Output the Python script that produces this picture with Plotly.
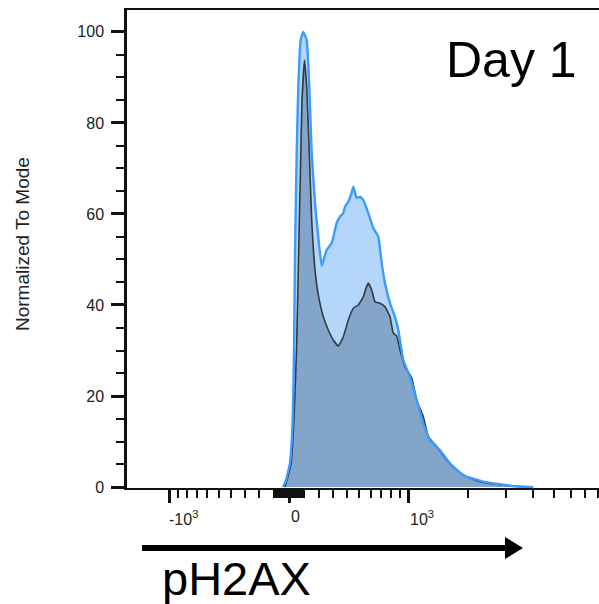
import numpy as np
import plotly.graph_objects as go

# ---------------- data (display channels of a biexponential axis) ----------------
# channel = K * asinh(intensity / C)
K = 95.0
C = 620.0


def to_channel(v):
    return K * np.arcsinh(np.asarray(v, dtype=float) / C)


# light-blue sample
blue_channel = [-6, -3, 1, 3.7, 5, 6, 7.7, 9.3, 11.7, 14.3, 17.7, 20.3, 22.7, 26, 29.3,
                32.7, 37.7, 42.7, 47.7, 51, 54.3, 56, 59.3, 62, 64.3, 67.7, 71, 74.3,
                79.3, 84.3, 89.3, 92.7, 96, 101, 106, 109.3, 114.3, 121, 127.7, 134.3,
                141, 151, 161, 174.3, 194.3, 221, 244.3]
blue_mode = [0, 1.5, 5.3, 14.7, 29.5, 51.4, 73.4, 87.9, 98.2, 100, 98.2, 87.9, 73.4, 62.4,
             54.9, 48.6, 52.1, 53.6, 58.0, 59.4, 60.2, 61.6, 62.7, 64.2, 66.0, 63.5, 63.8,
             63.1, 60.2, 56.9, 55.0, 49.2, 44.8, 40.4, 37.4, 34.5, 27.9, 24.2, 19.1, 14.0,
             10.3, 8.1, 5.2, 2.6, 1.2, 0.3, 0]

# dark (grey-blue) sample
dark_channel = [-4, 2, 5, 7.5, 9.5, 11.5, 13, 15.5, 17.7, 20.3, 22.7, 26, 29.3, 34.3, 39.3,
                44.3, 49.3, 54.3, 59.3, 64.3, 69.3, 74.3, 77, 79.3, 82.7, 86, 91, 96, 101,
                104.3, 107.7, 111, 116, 122.7, 127.7, 134.3, 139.3, 147.7, 157.7, 167.7,
                177.7, 191, 207.7, 231, 241]
dark_mode = [0, 5.0, 15, 30, 50, 70, 85, 93.8, 87.9, 73.4, 58.7, 47.7, 42.2, 37.4, 34.5,
             32.3, 31.0, 33.0, 36.7, 39.3, 40.0, 41.8, 43.7, 44.8, 43.3, 40.7, 40.4, 39.6,
             37.4, 33.8, 33.2, 30.1, 26.4, 24.0, 19.1, 15.5, 11.1, 8.9, 5.9, 3.7, 2.3, 1.2,
             0.6, 0.1, 0]

# axis ticks (intensity values)
x_major_vals = [-1000, 0, 1000, 10000]
x_major_text = ["-10<sup>3</sup>", "0", "10<sup>3</sup>"]
x_minor_vals = ([-100 * i for i in range(1, 10)] + [-10 * i for i in range(1, 10)] +
                [10 * i for i in range(1, 10)] + [100 * i for i in range(1, 10)] +
                [1000 * i for i in range(2, 10)])
y_major_vals = [0, 20, 40, 60, 80, 100]

x_range = [-162, 310]
y_range = [-0.2, 104.8]

# ---------------- figure ----------------
FONT = "Liberation Sans, Arial, sans-serif"
LIGHT_FILL = "#b4d6fa"
BLUE_LINE = "#3b9bff"
DARK_FILL = "#83a5c9"
DARK_LINE = "#343a42"

fig = go.Figure()
fig.add_trace(go.Scatter(x=blue_channel, y=blue_mode, mode="lines", fill="tozeroy",
                         fillcolor=LIGHT_FILL, line=dict(width=0, color=LIGHT_FILL,
                                                         shape="spline", smoothing=0.35),
                         hoverinfo="skip", showlegend=False))
fig.add_trace(go.Scatter(x=dark_channel, y=dark_mode, mode="lines", fill="tozeroy",
                         fillcolor=DARK_FILL, line=dict(width=1.6, color=DARK_LINE,
                                                        shape="spline", smoothing=0.35),
                         hoverinfo="skip", showlegend=False))
fig.add_trace(go.Scatter(x=blue_channel, y=blue_mode, mode="lines",
                         line=dict(width=2.4, color=BLUE_LINE, shape="spline", smoothing=0.35),
                         hoverinfo="skip", showlegend=False))

fig.update_layout(
    width=599, height=604,
    margin=dict(l=127, r=0, t=10, b=116),
    paper_bgcolor="white", plot_bgcolor="white",
    font=dict(family=FONT, color="#222222"),
    showlegend=False,
)

fig.update_xaxes(
    range=x_range, showgrid=False, zeroline=False,
    showline=True, linecolor="#111111", linewidth=2, mirror=True,
    tickmode="array", tickvals=list(to_channel(x_major_vals)),
    ticks="outside", ticklen=13, tickwidth=2.5, tickcolor="#111111",
    showticklabels=False,
    minor=dict(tickmode="array", tickvals=list(to_channel(x_minor_vals)),
               ticks="outside", ticklen=8, tickwidth=1.6, tickcolor="#111111"),
)
fig.update_yaxes(
    range=y_range, showgrid=False, zeroline=False,
    showline=True, linecolor="#111111", linewidth=2.5,
    tickmode="array", tickvals=y_major_vals,
    ticks="outside", ticklen=13, tickwidth=2.5, tickcolor="#111111",
    tickfont=dict(size=16, family=FONT, color="#222222"),
    ticklabelstandoff=4,
    minor=dict(dtick=5, ticks="outside", ticklen=8, tickwidth=1.5, tickcolor="#111111"),
)

# x tick labels (left aligned on their ticks, as in the original)
for val, txt in zip(x_major_vals[:3], x_major_text):
    fig.add_annotation(x=float(to_channel(val)), y=-0.038, xref="x", yref="paper",
                       text=txt, showarrow=False, xanchor="left", yanchor="top",
                       xshift=-3 if val < 0 else 0,
                       font=dict(size=16, family=FONT, color="#222222"))

# y axis title
fig.add_annotation(x=-0.2203, y=0.5105, xref="paper", yref="paper",
                   text="Normalized To Mode", textangle=-90, showarrow=False,
                   xanchor="center", yanchor="middle",
                   font=dict(size=19, family=FONT, color="#222222"))

# panel label
fig.add_annotation(x=0.9575, y=0.958, xref="paper", yref="paper", text="Day 1",
                   showarrow=False, xanchor="right", yanchor="top",
                   font=dict(size=50, family=FONT, color="#000000"))

# axis marker label
fig.add_annotation(x=0.07, y=-0.13, xref="paper", yref="paper", text="pH2AX",
                   showarrow=False, xanchor="left", yanchor="top",
                   font=dict(size=47, family=FONT, color="#000000"))

# arrow under the axis
fig.add_shape(type="line", xref="paper", yref="paper", x0=0.0318, x1=0.803,
              y0=-0.1255, y1=-0.1255, line=dict(color="black", width=6))
fig.add_shape(type="path", xref="paper", yref="paper",
              path="M 0.8008 -0.1025 L 0.839 -0.1255 L 0.8008 -0.1485 Z",
              fillcolor="black", line=dict(color="black", width=0))

fig.write_html("out.html")
